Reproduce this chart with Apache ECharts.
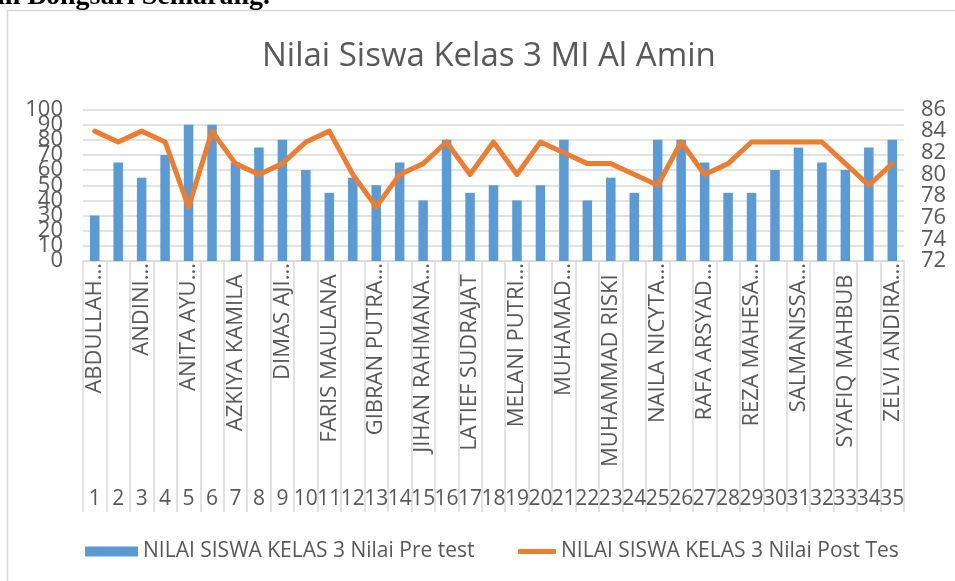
<!DOCTYPE html>
<html>
<head>
<meta charset="utf-8">
<script src="https://cdn.jsdelivr.net/npm/echarts@6/dist/echarts.min.js"></script>
<style>
html, body { margin: 0; padding: 0; background: #fff; }
#main { width: 955px; height: 581px; }
</style>
</head>
<body>
<div id="main"></div>
<script>
// nomor urut siswa
var nomor = ['1','2','3','4','5','6','7','8','9','10','11','12','13','14','15','16','17','18',
    '19','20','21','22','23','24','25','26','27','28','29','30','31','32','33','34','35'];
// nama yang terlihat (setiap siswa ganjil)
var nama = ['ABDULLAH...', 'ANDINI...', 'ANITA AYU...', 'AZKIYA KAMILA', 'DIMAS AJI...', 'FARIS MAULANA',
    'GIBRAN PUTRA...', 'JIHAN RAHMANA...', 'LATIEF SUDRAJAT', 'MELANI PUTRI...', 'MUHAMAD...',
    'MUHAMMAD RISKI', 'NAILA NICYTA...', 'RAFA ARSYAD...', 'REZA MAHESA...', 'SALMANISSA...',
    'SYAFIQ MAHBUB', 'ZELVI ANDIRA...'];
var preTest = [30, 65, 55, 70, 90, 90, 65, 75, 80, 60, 45, 55, 50, 65, 40, 80, 45, 50, 40, 50,
    80, 40, 55, 45, 80, 80, 65, 45, 45, 60, 75, 65, 60, 75, 80];
var postTest = [84, 83, 84, 83, 77, 84, 81, 80, 81, 83, 84, 80, 77, 80, 81, 83, 80, 83, 80, 83,
    82, 81, 81, 80, 79, 83, 80, 81, 83, 83, 83, 83, 81, 79, 81];
// label ujung sumbu (digambar terpisah supaya tidak disembunyikan)
var ujungKiri = [0, 100];
var ujungKanan = [72, 86];

var namaPre = 'NILAI SISWA KELAS 3 Nilai Pre test';
var namaPost = 'NILAI SISWA KELAS 3 Nilai Post Tes';

var abu = '#595959';
var garis = '#d9d9d9';
var huruf = '"Open Sans", sans-serif';

var myChart = echarts.init(document.getElementById('main'));

var labelKiri = { fontSize: 22, color: abu, margin: 20 };
var labelKanan = { fontSize: 22, color: abu, margin: 17 };

var option = {
    animation: false,
    textStyle: { fontFamily: huruf },
    title: {
        text: 'Nilai Siswa Kelas 3 MI Al Amin',
        left: 257,
        top: 35,
        textStyle: { fontSize: 33, fontWeight: 'normal', color: abu, fontFamily: huruf }
    },
    graphic: [
        {
            type: 'rect',
            shape: { x: 7.5, y: 10.5, width: 1000, height: 1000 },
            style: { fill: 'none', stroke: garis, lineWidth: 1.5 },
            z: -1
        },
        {
            type: 'text',
            left: -3,
            top: -17,
            style: {
                text: 'in Bongsari Semarang.',
                font: 'bold 28px "Liberation Serif"',
                fill: '#000'
            }
        }
    ],
    legend: [
        {
            data: [namaPre],
            left: 80,
            top: 536,
            itemWidth: 53,
            itemHeight: 10,
            icon: 'rect',
            textStyle: { fontSize: 21, color: abu }
        },
        {
            data: [namaPost],
            left: 513,
            top: 536,
            itemWidth: 38,
            itemHeight: 5,
            icon: 'roundRect',
            textStyle: { fontSize: 21, color: abu }
        }
    ],
    grid: [
        { left: 83, right: 51, top: 109.5, bottom: 320 },
        { left: 83, right: 51, top: 261, bottom: 69 }
    ],
    xAxis: [
        {
            type: 'category',
            data: nomor,
            gridIndex: 0,
            position: 'bottom',
            axisLine: { lineStyle: { color: garis, width: 1.5 } },
            axisTick: { show: false },
            axisLabel: { margin: 228, fontSize: 21, color: abu, interval: 0 }
        },
        {
            type: 'category',
            data: nomor,
            gridIndex: 0,
            position: 'bottom',
            axisLine: { show: false },
            axisTick: { show: false },
            axisLabel: {
                rotate: 90,
                interval: 1,
                margin: 2,
                fontSize: 22,
                color: abu,
                formatter: function (v, i) {
                    if (i % 2 !== 0) return '';
                    var n = nama[i / 2];
                    // nama tanpa elipsis bergeser sedikit dari sumbu
                    return n.slice(-3) === '...' ? n : n + '\u00a0\u00a0';
                }
            }
        },
        {
            // garis pemisah kategori di area label
            type: 'category',
            data: nomor,
            gridIndex: 1,
            axisLine: { show: false },
            axisTick: { show: false },
            axisLabel: { show: false },
            splitLine: { show: true, interval: 0, lineStyle: { color: garis, width: 1.5 } }
        }
    ],
    yAxis: [
        {
            type: 'value',
            min: 0,
            max: 100,
            interval: 10,
            gridIndex: 0,
            axisLine: { show: false },
            axisTick: { show: false },
            splitLine: { lineStyle: { color: garis, width: 1.5 } },
            axisLabel: labelKiri
        },
        {
            type: 'value',
            min: 72,
            max: 86,
            interval: 2,
            gridIndex: 0,
            axisLine: { show: false },
            axisTick: { show: false },
            splitLine: { show: false },
            axisLabel: labelKanan
        },
        {
            type: 'value',
            gridIndex: 1,
            show: false
        },
        {
            type: 'value',
            min: 0,
            max: 100,
            gridIndex: 0,
            position: 'left',
            axisLine: { show: false },
            axisTick: { show: false },
            splitLine: { show: false },
            axisLabel: Object.assign({ customValues: ujungKiri }, labelKiri)
        },
        {
            type: 'value',
            min: 72,
            max: 86,
            gridIndex: 0,
            position: 'right',
            axisLine: { show: false },
            axisTick: { show: false },
            splitLine: { show: false },
            axisLabel: Object.assign({ customValues: ujungKanan }, labelKanan)
        }
    ],
    series: [
        {
            name: namaPre,
            type: 'bar',
            xAxisIndex: 0,
            yAxisIndex: 0,
            barWidth: 9.5,
            itemStyle: { color: '#5b9bd5' },
            data: preTest
        },
        {
            name: namaPost,
            type: 'line',
            xAxisIndex: 0,
            yAxisIndex: 1,
            showSymbol: false,
            symbol: 'none',
            lineStyle: { color: '#ed7d31', width: 5, join: 'round', cap: 'round' },
            itemStyle: { color: '#ed7d31' },
            data: postTest
        }
    ]
};

myChart.setOption(option);
</script>
</body>
</html>
